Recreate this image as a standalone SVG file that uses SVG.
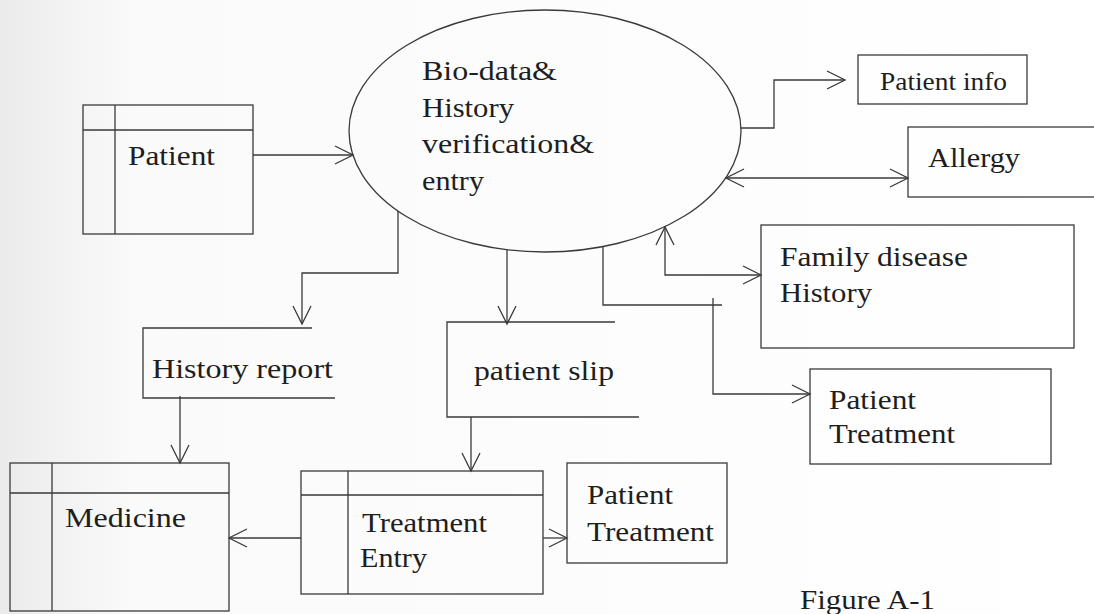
<svg xmlns="http://www.w3.org/2000/svg" width="1094" height="614" viewBox="0 0 1094 614">
  <style>
    .ln { fill: none; stroke: #3a3a3a; stroke-width: 1.3; }
    .bx { fill: none; stroke: #3a3a3a; stroke-width: 1.3; }
    .tx { font-family: "Liberation Serif", "Times New Roman", serif; font-size: 28px; fill: #1e1e1e; }
    .sm { font-size: 25px; }
    .ar { marker-end: url(#open); }
    .ar2 { marker-start: url(#open); marker-end: url(#open); }
  </style>
  <defs>
    <linearGradient id="paper" x1="0" y1="0" x2="1" y2="0">
      <stop offset="0" stop-color="#ebebeb"/>
      <stop offset="0.12" stop-color="#fafafa"/>
      <stop offset="1" stop-color="#ffffff"/>
    </linearGradient>
    <!-- open V arrowhead -->
    <marker id="open" markerUnits="userSpaceOnUse" markerWidth="22" markerHeight="22" viewBox="0 0 22 22" refX="19" refY="10" orient="auto-start-reverse">
      <path d="M1,1 L19,10 L1,19" fill="none" stroke="#3a3a3a" stroke-width="1.3"/>
    </marker>
  </defs>

  <rect width="1094" height="614" fill="url(#paper)"/>

  <!-- process bubble -->
  <g id="process">
    <ellipse class="bx" cx="545" cy="131" rx="196" ry="121"/>
    <text class="tx" x="422" y="80" textLength="135" lengthAdjust="spacingAndGlyphs">Bio-data&amp;</text>
    <text class="tx" x="422" y="117" textLength="92" lengthAdjust="spacingAndGlyphs">History</text>
    <text class="tx" x="422" y="153" textLength="172" lengthAdjust="spacingAndGlyphs">verification&amp;</text>
    <text class="tx" x="422" y="190" textLength="62" lengthAdjust="spacingAndGlyphs">entry</text>
  </g>

  <!-- entity tables -->
  <g id="patient">
    <rect class="bx" x="83" y="105" width="170" height="129"/>
    <path class="ln" d="M83 130 H253 M115 105 V234"/>
    <text class="tx" x="128" y="165" textLength="87" lengthAdjust="spacingAndGlyphs">Patient</text>
  </g>

  <g id="medicine">
    <rect class="bx" x="10" y="463" width="219" height="148"/>
    <path class="ln" d="M10 493 H229 M52 463 V611"/>
    <text class="tx" x="65" y="527" textLength="121" lengthAdjust="spacingAndGlyphs">Medicine</text>
  </g>

  <g id="treatment-entry">
    <rect class="bx" x="301" y="471" width="242" height="123"/>
    <path class="ln" d="M301 495 H543 M348 471 V594"/>
    <text class="tx" x="362" y="532" textLength="125" lengthAdjust="spacingAndGlyphs">Treatment</text>
    <text class="tx" x="360" y="567" textLength="67" lengthAdjust="spacingAndGlyphs">Entry</text>
  </g>

  <!-- data stores (open on the right) -->
  <g id="history-report">
    <path class="ln" d="M312 328 H143 V398 H335"/>
    <text class="tx" x="152" y="378" textLength="181" lengthAdjust="spacingAndGlyphs">History report</text>
  </g>

  <g id="patient-slip">
    <path class="ln" d="M615 322 H447 V417 H639"/>
    <text class="tx" x="474" y="380" textLength="140" lengthAdjust="spacingAndGlyphs">patient slip</text>
  </g>

  <!-- external outputs -->
  <g id="patient-info">
    <rect class="bx" x="858" y="55" width="169" height="49"/>
    <text class="tx sm" x="880" y="90" textLength="127" lengthAdjust="spacingAndGlyphs">Patient info</text>
  </g>

  <g id="allergy">
    <rect class="bx" x="908" y="127" width="200" height="70"/>
    <text class="tx" x="928" y="167" textLength="92" lengthAdjust="spacingAndGlyphs">Allergy</text>
  </g>

  <g id="family-history">
    <rect class="bx" x="761" y="225" width="313" height="123"/>
    <text class="tx" x="780" y="266" textLength="188" lengthAdjust="spacingAndGlyphs">Family disease</text>
    <text class="tx" x="780" y="302" textLength="92" lengthAdjust="spacingAndGlyphs">History</text>
  </g>

  <g id="patient-treatment-1">
    <rect class="bx" x="810" y="369" width="241" height="95"/>
    <text class="tx" x="829" y="409" textLength="87" lengthAdjust="spacingAndGlyphs">Patient</text>
    <text class="tx" x="829" y="443" textLength="126" lengthAdjust="spacingAndGlyphs">Treatment</text>
  </g>

  <g id="patient-treatment-2">
    <rect class="bx" x="567" y="463" width="160" height="100"/>
    <text class="tx" x="587" y="504" textLength="86" lengthAdjust="spacingAndGlyphs">Patient</text>
    <text class="tx" x="587" y="541" textLength="127" lengthAdjust="spacingAndGlyphs">Treatment</text>
  </g>

  <!-- data flows -->
  <g id="connectors">
    <path class="ln ar" d="M253 155 H353"/>
    <path class="ln ar" d="M741 128 H774 V80 H845"/>
    <path class="ln ar2" d="M726 178 H908"/>
    <path class="ln ar2" d="M665 227 V275 H761"/>
    <path class="ln" d="M603 247 V305 H722"/>
    <path class="ln ar" d="M713 298 V394 H810"/>
    <path class="ln ar" d="M398 211 V273 H302 V324"/>
    <path class="ln ar" d="M507 250 V324"/>
    <path class="ln ar" d="M180 396 V463"/>
    <path class="ln ar" d="M471 417 V471"/>
    <path class="ln ar" d="M301 538 H229"/>
    <path class="ln ar" d="M543 538 H567"/>
  </g>

  <text class="tx" x="800" y="609" font-size="26" textLength="135" lengthAdjust="spacingAndGlyphs">Figure A-1</text>
</svg>
